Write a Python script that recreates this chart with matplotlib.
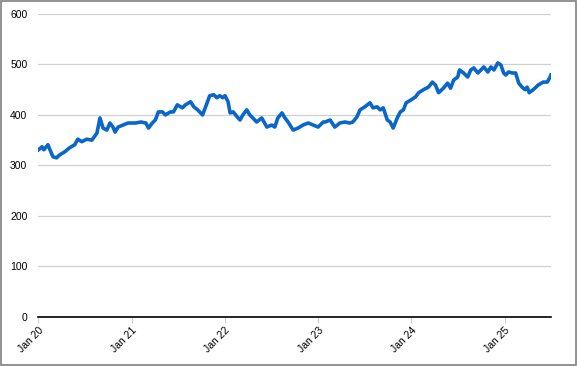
import matplotlib
matplotlib.use("Agg")
import matplotlib.pyplot as plt
import matplotlib.dates as mdates
import pandas as pd

fechas = [
    "2020-01-01", "2020-01-15", "2020-01-22", "2020-02-07", "2020-02-15", "2020-02-27",
    "2020-03-12", "2020-03-24", "2020-04-13", "2020-05-02", "2020-05-22", "2020-06-03",
    "2020-06-19", "2020-07-08", "2020-07-28", "2020-08-17", "2020-08-29", "2020-09-10",
    "2020-09-25", "2020-10-07", "2020-10-19", "2020-10-27", "2020-11-08", "2020-11-27",
    "2020-12-17", "2021-01-01", "2021-01-16", "2021-02-05", "2021-02-25", "2021-03-07",
    "2021-03-22", "2021-04-03", "2021-04-15", "2021-05-01", "2021-05-12", "2021-06-01",
    "2021-06-13", "2021-06-28", "2021-07-18", "2021-07-30", "2021-08-19", "2021-09-01",
    "2021-09-16", "2021-10-05", "2021-10-17", "2021-11-02", "2021-11-18", "2021-11-30",
    "2021-12-11", "2021-12-23", "2022-01-01", "2022-01-13", "2022-01-21", "2022-02-02",
    "2022-02-18", "2022-03-01", "2022-03-12", "2022-03-27", "2022-04-08", "2022-04-20",
    "2022-05-05", "2022-05-25", "2022-06-14", "2022-07-03", "2022-07-15", "2022-07-27",
    "2022-08-12", "2022-08-24", "2022-09-05", "2022-09-25", "2022-10-14", "2022-11-03",
    "2022-11-23", "2022-12-12", "2023-01-01", "2023-01-21", "2023-01-29", "2023-02-17",
    "2023-03-07", "2023-03-27", "2023-04-16", "2023-05-05", "2023-05-17", "2023-06-02",
    "2023-06-14", "2023-07-03", "2023-07-23", "2023-08-04", "2023-08-20", "2023-09-01",
    "2023-09-13", "2023-09-29", "2023-10-10", "2023-10-22", "2023-11-07", "2023-11-19",
    "2023-12-01", "2023-12-12", "2024-01-01", "2024-01-18", "2024-01-30", "2024-02-18",
    "2024-03-08", "2024-03-24", "2024-04-05", "2024-04-17", "2024-05-06", "2024-05-22",
    "2024-06-03", "2024-06-15", "2024-07-01", "2024-07-08", "2024-07-24", "2024-08-09",
    "2024-08-21", "2024-09-02", "2024-09-18", "2024-09-30", "2024-10-11", "2024-10-27",
    "2024-11-08", "2024-11-20", "2024-12-05", "2024-12-17", "2024-12-28", "2025-01-05",
    "2025-01-16", "2025-02-01", "2025-02-13", "2025-02-25", "2025-03-10", "2025-03-22",
    "2025-03-30", "2025-04-07", "2025-04-23", "2025-05-12", "2025-06-01", "2025-06-17",
    "2025-06-28", "2025-07-01",
]
valores = [
    331, 337, 331, 341, 331, 317,
    315, 321, 327, 335, 341, 352,
    347, 352, 350, 364, 394, 374,
    370, 384, 376, 366, 376, 380,
    384, 384, 384, 386, 384, 374,
    384, 390, 406, 406, 400, 406,
    406, 420, 414, 420, 426, 416,
    410, 400, 416, 438, 440, 434,
    438, 434, 438, 426, 404, 406,
    396, 390, 400, 410, 400, 394,
    386, 394, 376, 380, 376, 394,
    404, 394, 386, 370, 374, 380,
    384, 380, 376, 386, 386, 390,
    376, 384, 386, 384, 386, 396,
    410, 416, 424, 414, 416, 410,
    414, 390, 386, 374, 394, 406,
    410, 424, 430, 436, 444, 450,
    455, 465, 459, 444, 453, 463,
    453, 469, 475, 489, 483, 475,
    489, 493, 483, 489, 495, 485,
    495, 489, 503, 499, 483, 479,
    485, 483, 483, 463, 455, 450,
    455, 444, 450, 459, 465, 465,
    475, 479,
]
etiquetas = ["Jan 20", "Jan 21", "Jan 22", "Jan 23", "Jan 24", "Jan 25"]
anios = [2020, 2021, 2022, 2023, 2024, 2025]

plt.rcParams['font.family'] = ['Liberation Sans', 'DejaVu Sans']

fechas = pd.to_datetime(fechas)

fig = plt.figure(figsize=(5.77, 3.66), dpi=100)
ax = fig.add_axes([0.0667, 0.134, 0.888, 0.828])

ax.plot(fechas, valores, color="#0a66c8", linewidth=2.6, solid_joinstyle="round")

ax.set_ylim(0, 600)
ax.set_yticks(range(0, 601, 100))
ax.set_xlim(pd.Timestamp("2020-01-01"), pd.Timestamp("2025-07-01"))
ax.set_xticks([pd.Timestamp(f"{a}-01-01") for a in anios])
ax.set_xticklabels(etiquetas, rotation=45, ha="right", rotation_mode="anchor")

ax.grid(axis="y", color="#d0d0d0", linewidth=0.9)
ax.set_axisbelow(True)
for lado in ["top", "right", "left"]:
    ax.spines[lado].set_visible(False)
ax.spines["bottom"].set_color("black")
ax.spines["bottom"].set_linewidth(1.2)
ax.tick_params(axis="y", length=0, labelsize=7.5, pad=8)
ax.tick_params(axis="x", length=4, color="#d0d0d0", labelsize=7.5, pad=2)

# marco gris alrededor de la figura
fig.patches.append(plt.Rectangle((0.001, 0.002), 0.997, 0.996, transform=fig.transFigure,
                                 fill=False, edgecolor="#7f7f7f", linewidth=1.2))

fig.savefig("out.png", dpi=100)
